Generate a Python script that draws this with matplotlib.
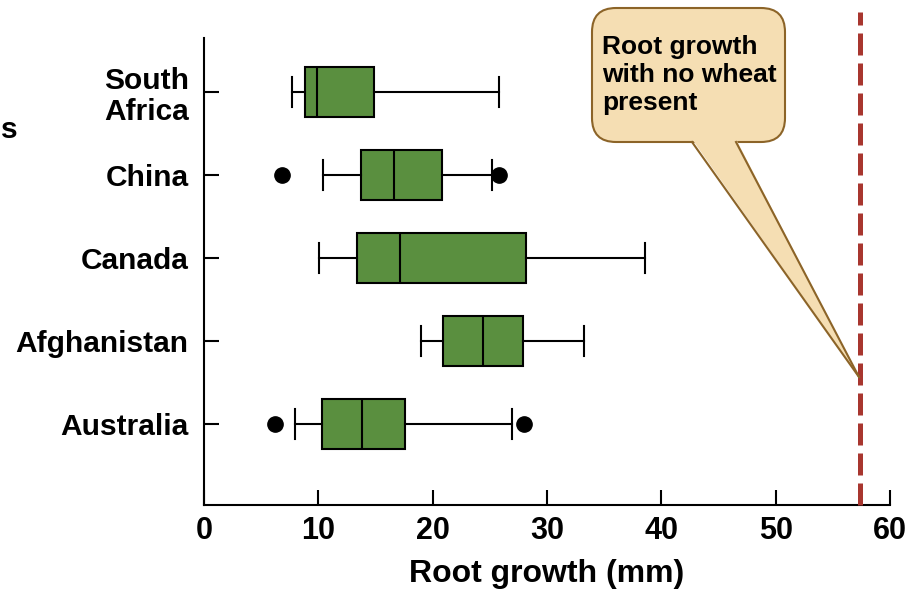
"""Root growth box plot by country, with the no-wheat reference line."""
import matplotlib
matplotlib.use("Agg")
import matplotlib.pyplot as plt
from matplotlib.patches import FancyBboxPatch, Polygon
from matplotlib.transforms import IdentityTransform

# data, bottom to top
countries = ["Australia", "Afghanistan", "Canada", "China", "South\nAfrica"]
whisk_lo = [8.0, 19.0, 10.1, 10.4, 7.7]
q1 = [10.3, 20.9, 13.4, 13.7, 8.8]
median = [13.8, 24.4, 17.1, 16.6, 9.9]
q3 = [17.6, 27.9, 28.2, 20.8, 14.9]
whisk_hi = [26.9, 33.2, 38.6, 25.2, 25.8]
outliers = [[6.2, 28.0], [], [], [6.8, 25.8], []]
no_wheat_growth = 57.4
x_ticks = [0, 10, 20, 30, 40, 50, 60]

BOX_GREEN = "#5a8f3f"
LINE_RED = "#a8362f"
CALLOUT_FILL = "#f5deb3"
CALLOUT_EDGE = "#8c6428"
BOLD = ["Liberation Sans", "DejaVu Sans"]
NARROW = ["Liberation Sans Narrow", "Liberation Sans", "DejaVu Sans"]

W, H, DPI = 916, 591, 100
fig = plt.figure(figsize=(W / DPI, H / DPI), dpi=DPI)
ax = fig.add_axes([204 / W, 1 - 505 / H, (890 - 204) / W, (505 - 38) / H])

stats = []
for i in range(len(countries)):
    stats.append({"whislo": whisk_lo[i], "q1": q1[i], "med": median[i],
                  "q3": q3[i], "whishi": whisk_hi[i], "fliers": outliers[i]})
pos = list(range(1, len(countries) + 1))
lw = 1.5
ax.bxp(stats, positions=pos, vert=False, widths=0.61, capwidths=0.36,
       patch_artist=True, showfliers=True,
       boxprops=dict(facecolor=BOX_GREEN, edgecolor="black", linewidth=lw),
       medianprops=dict(color="black", linewidth=lw),
       whiskerprops=dict(color="black", linewidth=lw),
       capprops=dict(color="black", linewidth=lw),
       flierprops=dict(marker="o", markerfacecolor="black",
                       markeredgecolor="black", markersize=11))

# reference line (no wheat present)
ax.axvline(no_wheat_growth, ymin=0, ymax=1.056, clip_on=False, color=LINE_RED,
           linewidth=3.6, linestyle=(0, (4.4, 1.6)), zorder=5)

ax.set_xlim(0, 60)
ax.set_ylim(0.024, 5.65)
ax.set_xticks(x_ticks)
ax.set_xticklabels([str(t) for t in x_ticks], family=NARROW,
                   fontweight="bold", fontsize=22)
ax.set_yticks(pos)
ax.set_yticklabels(countries, family=BOLD, fontweight="bold", fontsize=21.5,
                   linespacing=1.15)
ax.tick_params(axis="both", direction="in", length=11, width=1.5,
               color="black")
ax.tick_params(axis="y", pad=11)
ax.tick_params(axis="x", pad=8)
for side in ["top", "right"]:
    ax.spines[side].set_visible(False)
for side in ["left", "bottom"]:
    ax.spines[side].set_linewidth(1.5)
ax.set_xlabel("Root growth (mm)", family=NARROW, fontweight="bold",
              fontsize=23, labelpad=9.5)

# label fragment on the left edge
fig.text(1 / W, 1 - 130 / H, "s", ha="left", va="center",
         family=BOLD, fontweight="bold", fontsize=21.5)

# callout bubble (pixel coords, origin bottom-left)
def px(x, y):
    return (x, H - y)

box = FancyBboxPatch(px(592, 142), 785 - 592, 142 - 8,
                     boxstyle="round,pad=0,rounding_size=24",
                     transform=IdentityTransform(), facecolor=CALLOUT_FILL,
                     edgecolor=CALLOUT_EDGE, linewidth=1.5, zorder=6)
fig.patches.append(box)
tail = Polygon([px(692, 139), px(736, 139), px(859, 377)], closed=True,
               transform=IdentityTransform(), facecolor=CALLOUT_FILL,
               edgecolor="none", zorder=7)
fig.patches.append(tail)
for bx in (692, 736):
    fig.lines.append(plt.Line2D([bx, 859], [H - 142, H - 377],
                                transform=IdentityTransform(),
                                color=CALLOUT_EDGE, linewidth=1.5, zorder=8))
fig.text(602 / W, 1 - 35 / H, "Root growth\nwith no wheat\npresent",
         ha="left", va="top", family=BOLD, fontweight="bold", fontsize=19,
         linespacing=1.22, zorder=9)

fig.savefig("out.png", dpi=DPI)
